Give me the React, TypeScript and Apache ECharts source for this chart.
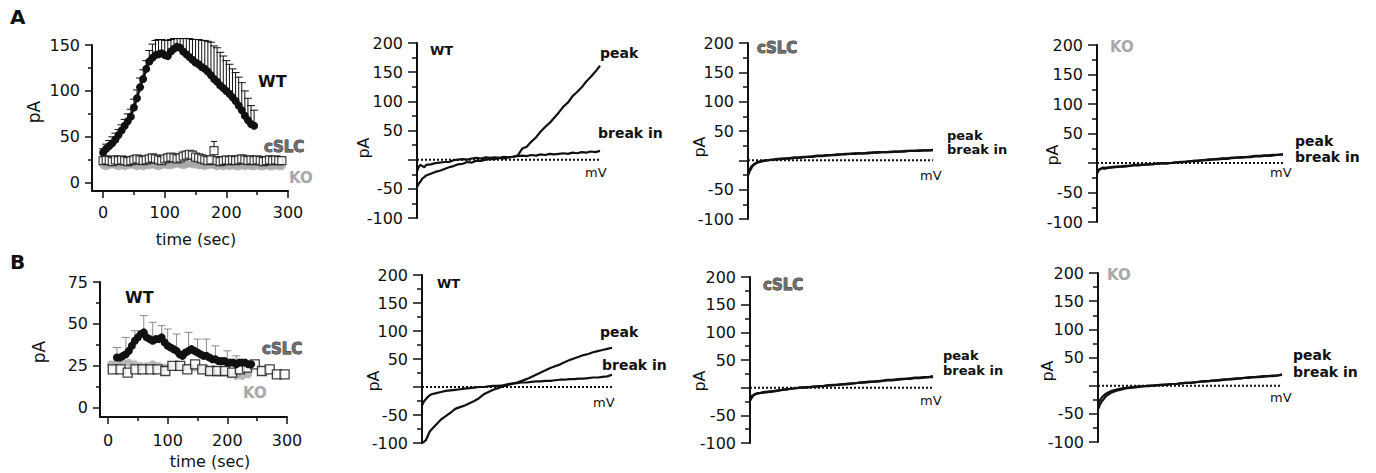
import React, { useEffect, useRef } from 'react';
import * as echarts from 'echarts';

const FF = '"DejaVu Sans"';
const INK = '#111';
const GRAY = '#a8a8a8';

// ---------- Time courses (A1, B1) ----------
const tA_WT = [0,5,10,15,20,25,30,35,40,45,50,55,60,65,70,75,80,85,90,95,100,105,110,115,120,125,130,135,140,145,150,155,160,165,170,175,180,185,190,195,200,205,210,215,220,225,230,235,240,245];
const WT_A = [33,37,40,43,47,52,57,62,67,72,82,92,104,113,124,132,136,139,140,141,139,138,143,146,148,147,143,140,137,134,131,129,126,124,121,117,113,110,106,103,100,97,93,89,84,79,73,68,64,62];
const WT_A_err = [4,5,6,7,7,6,6,7,8,8,9,9,10,10,9,12,15,16,16,15,16,17,13,11,9,10,14,17,20,22,25,27,29,31,33,36,36,37,36,35,33,32,31,31,31,30,27,24,20,17];

const tA_CTRL = [0,5,10,15,20,25,30,35,40,45,50,55,60,65,70,75,80,85,90,95,100,105,110,115,120,125,130,135,140,145,150,155,160,165,170,175,180,185,190,195,200,205,210,215,220,225,230,235,240,245,250,255,260,265,270,275,280,285,290];
const CSLC_A = [24,25,24,23,25,24,25,24,23,24,25,26,25,24,25,26,27,26,25,24,26,27,28,27,26,27,29,30,31,30,28,27,26,25,24,25,35,24,23,24,25,24,25,24,25,26,25,24,25,24,25,24,23,24,25,24,25,24,24];
const CSLC_A_err = [3,4,3,3,4,3,3,4,3,3,4,3,3,4,3,3,4,3,3,4,3,4,3,3,4,3,4,3,3,4,3,3,4,3,3,3,10,3,3,4,3,3,4,3,3,4,3,3,4,3,3,4,3,3,4,3,3,3,3];
const KO_A = [19,18,19,20,19,18,19,18,19,20,19,18,19,18,19,19,20,19,18,19,20,19,19,20,21,20,19,20,21,20,20,19,19,18,19,20,19,18,19,18,19,18,19,18,18,19,18,19,18,18,19,18,18,19,18,18,19,18,18];

const tB_WT = [15,20,25,30,35,40,45,50,55,60,65,70,75,80,85,90,95,100,105,110,115,120,125,130,135,140,145,150,155,160,165,170,175,180,185,190,195,200,205,210,215,220,225,230,235,240];
const WT_B = [30,30,31,32,34,37,40,42,44,45,42,41,40,41,41,42,39,37,36,35,34,32,31,33,34,35,34,33,32,31,31,30,29,29,28,28,28,27,27,27,26,27,27,27,26,26];
const tB_WT_err = [15,30,45,60,75,90,100,115,135,150,165,180,200,215];
const WT_B_err = [6,10,6,10,11,7,10,10,11,8,10,8,7,5];

const tB_CSLC = [8,21,33,46,58,71,83,96,108,121,133,146,158,171,183,196,208,221,233,246,258,271,283,296];
const CSLC_B = [23,23,21,23,23,23,23,22,25,25,23,26,23,22,22,22,21,23,24,26,22,23,20,20];
const tB_KO = [5,15,25,35,45,55,65,75,85,95,105,115,125,135,145,155,165,175,185,195,205,215,225,235];
const KO_B = [26,27,27,27,26,25,25,26,25,24,25,26,25,24,24,23,22,22,21,21,20,19,19,20];

const TA_X_MAJOR = [0,100,200,300];
const TA_X_MINOR = [50,150,250];
const TA_Y_MAJOR = [0,50,100,150];
const TA_Y_MINOR = [25,75,125];
const TB_Y_MAJOR = [0,25,50,75];
const TB_Y_MINOR = [12.5,37.5,62.5];

// ---------- I-V curves (voltage in mV, current in pA) ----------
const V = [-100,-98,-96,-94,-92,-90,-85,-80,-75,-70,-65,-60,-55,-50,-45,-40,-35,-30,-25,-20,-15,-10,-5,0,5,10,15,20,25,30,35,40,45,50,55,60,65,70,75,80,85,90,95,100];
const ZERO_V = [-100,100];

const A_WT_peak = [-47,-41,-37,-32,-30,-27,-24,-21,-19,-16,-13,-11,-8,-7,-4,-5,-2,-2,0,1,1,3,2,4,5,7,19,22,31,38,48,56,63,72,81,91,98,109,116,124,134,142,151,161];
const A_WT_break = [-20,-12,-9,-11,-13,-9,-8,-6,-5,-4,-4,-1,0,1,0,2,3,2,4,3,4,3,5,4,5,6,7,6,8,7,9,8,10,9,10,11,10,12,11,13,12,14,13,15];
const A_CSLC_peak = [-26,-18,-12,-8,-6,-4,-2,0,1,2,3,3,4,5,5,6,6,7,8,8,9,9,10,10,11,11,12,12,12,13,13,14,14,14,15,15,15,16,16,16,17,17,17,18];
const A_CSLC_break = [-23,-15,-10,-7,-5,-3,-1,0,1,1,2,3,3,4,4,5,6,6,7,7,8,9,9,10,10,11,11,12,12,12,13,13,14,14,14,15,15,15,16,16,16,17,17,17];
const A_KO_peak = [-18,-12,-10,-9,-10,-8,-8,-7,-6,-6,-5,-4,-4,-3,-3,-2,-1,-1,-1,0,1,2,2,3,4,4,5,6,6,7,8,8,9,9,10,10,11,12,12,13,13,14,14,15];
const A_KO_break = [-14,-11,-10,-8,-8,-9,-7,-6,-6,-5,-5,-3,-3,-3,-2,-2,-1,0,0,0,1,1,2,3,3,4,5,5,6,6,7,7,8,9,9,10,10,11,11,12,12,13,14,14];

const B_WT_peak = [-100,-98,-95,-88,-80,-76,-67,-58,-52,-46,-39,-36,-33,-29,-25,-20,-13,-9,-5,-2,1,3,6,8,11,14,18,22,26,30,34,37,40,44,48,51,54,57,59,62,64,66,68,70];
const B_WT_break = [-33,-26,-22,-18,-15,-13,-11,-9,-7,-6,-5,-4,-3,-2,-1,0,0,1,2,2,3,5,6,7,8,8,9,10,10,11,11,12,13,13,14,14,15,15,16,17,17,18,19,22];
const B_CSLC_peak = [-24,-18,-14,-12,-11,-10,-9,-8,-7,-6,-4,-3,-2,-1,0,1,1,2,3,3,4,5,5,6,7,8,8,9,10,11,11,12,13,14,14,15,16,16,17,18,18,19,19,21];
const B_CSLC_break = [-20,-15,-13,-11,-10,-10,-8,-7,-6,-5,-4,-3,-2,-1,0,0,1,2,2,3,4,4,5,6,6,7,8,9,9,10,11,11,12,13,13,14,15,16,16,17,17,18,19,19];
const B_KO_peak = [-42,-34,-28,-24,-20,-17,-12,-9,-7,-5,-4,-3,-2,-1,-1,0,1,1,2,3,3,4,5,5,6,7,8,8,9,10,11,11,12,13,13,14,15,15,16,17,17,18,18,20];
const B_KO_break = [-32,-26,-21,-18,-15,-13,-9,-7,-5,-4,-3,-2,-1,-1,0,0,1,2,2,3,3,4,5,5,6,7,7,8,9,9,10,11,11,12,13,14,14,15,15,16,17,17,18,19];

function buildOption() {
  const grids: any[] = [];
  const xAxes: any[] = [];
  const yAxes: any[] = [];
  const series: any[] = [];
  const graphic: any[] = [];

  const lineCol = { color: INK, width: 2 };
  const tickCol = { color: INK, width: 1.5 };

  const text = (s: string, x: number, y: number, size: number, opts: any = {}) => {
    graphic.push({
      type: 'text', x, y, rotation: opts.rotation || 0, silent: true,
      style: {
        text: s,
        font: `${opts.bold ? 'bold ' : ''}${size}px ${FF}`,
        fill: opts.fill || INK,
        stroke: opts.stroke, lineWidth: opts.lineWidth || 0,
        align: opts.align || 'left', verticalAlign: 'middle',
      },
    });
  };

  const errSeries = (xi: number, yi: number, data: number[][], color: string, width: number, cap: number) => ({
    type: 'custom', xAxisIndex: xi, yAxisIndex: yi, data, encode: { x: 0, y: 1 }, silent: true,
    renderItem: (_p: any, api: any) => {
      const x = api.value(0), y = api.value(1), e = api.value(2);
      const a = api.coord([x, y]);
      const b = api.coord([x, y + e]);
      return {
        type: 'group', children: [
          { type: 'line', shape: { x1: a[0], y1: a[1], x2: b[0], y2: b[1] }, style: { stroke: color, lineWidth: width } },
          { type: 'line', shape: { x1: b[0] - cap, y1: b[1], x2: b[0] + cap, y2: b[1] }, style: { stroke: color, lineWidth: width } },
        ],
      };
    },
  });

  const timePanel = (box: number[], xr: number[], yr: number[], yMajor: number[], yMinor: number[], xLabelMargin: number) => {
    const g = grids.length;
    grids.push({ left: box[0], top: box[1], width: box[2], height: box[3], containLabel: false, outerBoundsMode: 'none' });
    const xi = xAxes.length;
    xAxes.push({
      gridIndex: g, type: 'value', position: 'bottom', min: xr[0], max: xr[1],
      axisLine: { show: true, onZero: false, lineStyle: lineCol },
      axisTick: { show: true, customValues: TA_X_MAJOR, length: 7, lineStyle: tickCol },
      axisLabel: { show: true, customValues: TA_X_MAJOR, margin: xLabelMargin, fontSize: 16, fontFamily: FF, color: INK },
      splitLine: { show: false },
    });
    xAxes.push({
      gridIndex: g, type: 'value', position: 'bottom', min: xr[0], max: xr[1],
      axisLine: { show: false, onZero: false },
      axisTick: { show: true, customValues: TA_X_MINOR, length: 4, lineStyle: tickCol },
      axisLabel: { show: false }, splitLine: { show: false },
    });
    const yi = yAxes.length;
    yAxes.push({
      gridIndex: g, type: 'value', position: 'left', min: yr[0], max: yr[1],
      axisLine: { show: true, onZero: false, lineStyle: lineCol },
      axisTick: { show: true, customValues: yMajor, length: 7, lineStyle: tickCol },
      axisLabel: { show: true, customValues: yMajor, margin: 12, fontSize: 16, fontFamily: FF, color: INK },
      splitLine: { show: false },
    });
    yAxes.push({
      gridIndex: g, type: 'value', position: 'left', min: yr[0], max: yr[1],
      axisLine: { show: false, onZero: false },
      axisTick: { show: true, customValues: yMinor, length: 4, lineStyle: tickCol },
      axisLabel: { show: false }, splitLine: { show: false },
    });
    return { xi, yi };
  };

  const ivPanel = (box: number[], peak: number[], brk: number[]) => {
    const g = grids.length;
    grids.push({ left: box[0], top: box[1], width: box[2], height: box[3], containLabel: false, outerBoundsMode: 'none' });
    const xi = xAxes.length;
    xAxes.push({ gridIndex: g, type: 'value', min: -100, max: 100, show: false, splitLine: { show: false } });
    const yi = yAxes.length;
    yAxes.push({
      gridIndex: g, type: 'value', position: 'left', min: -100, max: 200, interval: 50,
      axisLine: { show: true, onZero: false, lineStyle: lineCol },
      axisTick: { show: true, length: 9, lineStyle: tickCol },
      minorTick: { show: true, splitNumber: 2, length: 5, lineStyle: tickCol },
      axisLabel: { show: true, margin: 14, fontSize: 16, fontFamily: FF, color: INK, formatter: (v: number) => (v === 0 ? '' : String(v)) },
      splitLine: { show: false }, minorSplitLine: { show: false },
    });
    series.push({
      type: 'line', xAxisIndex: xi, yAxisIndex: yi, symbol: 'none', silent: true,
      data: ZERO_V.map((v) => [v, 0]), lineStyle: { color: INK, width: 2, type: [2, 2] },
    });
    series.push({
      type: 'line', xAxisIndex: xi, yAxisIndex: yi, symbol: 'none', silent: true,
      data: V.map((v, i) => [v, brk[i]]), lineStyle: { color: INK, width: 2.2 },
    });
    series.push({
      type: 'line', xAxisIndex: xi, yAxisIndex: yi, symbol: 'none', silent: true,
      data: V.map((v, i) => [v, peak[i]]), lineStyle: { color: INK, width: 2.2 },
    });
  };

  // ----- A1 -----
  const a1 = timePanel([92, 45, 196, 146], [-18, 300], [-9, 150], TA_Y_MAJOR, TA_Y_MINOR, 13);
  series.push({
    type: 'scatter', xAxisIndex: a1.xi, yAxisIndex: a1.yi, symbol: 'circle', symbolSize: 8, silent: true,
    itemStyle: { color: GRAY }, data: tA_CTRL.map((t, i) => [t, KO_A[i]]),
  });
  series.push(errSeries(a1.xi, a1.yi, tA_CTRL.map((t, i) => [t, CSLC_A[i], CSLC_A_err[i]]), INK, 1, 3));
  series.push({
    type: 'scatter', xAxisIndex: a1.xi, yAxisIndex: a1.yi, symbol: 'rect', symbolSize: 8, silent: true,
    itemStyle: { color: '#fff', borderColor: INK, borderWidth: 1.2 }, data: tA_CTRL.map((t, i) => [t, CSLC_A[i]]),
  });
  series.push(errSeries(a1.xi, a1.yi, tA_WT.map((t, i) => [t, WT_A[i], WT_A_err[i]]), INK, 1, 4));
  series.push({
    type: 'line', xAxisIndex: a1.xi, yAxisIndex: a1.yi, symbol: 'circle', symbolSize: 8, showAllSymbol: true, silent: true,
    itemStyle: { color: INK }, lineStyle: { color: INK, width: 2.5 }, data: tA_WT.map((t, i) => [t, WT_A[i]]),
  });

  // ----- A2..A4 -----
  ivPanel([417, 43, 183, 175], A_WT_peak, A_WT_break);
  ivPanel([748, 43, 185, 176], A_CSLC_peak, A_CSLC_break);
  ivPanel([1097, 45, 186, 177], A_KO_peak, A_KO_break);

  // ----- B1 -----
  const b1 = timePanel([100, 282, 187, 135], [-13.4, 300], [-5.4, 75], TB_Y_MAJOR, TB_Y_MINOR, 15);
  series.push({
    type: 'scatter', xAxisIndex: b1.xi, yAxisIndex: b1.yi, symbol: 'circle', symbolSize: 8, silent: true,
    itemStyle: { color: GRAY }, data: tB_KO.map((t, i) => [t, KO_B[i]]),
  });
  series.push(errSeries(b1.xi, b1.yi, tB_WT_err.map((t, i) => [t, WT_B[tB_WT.indexOf(t)], WT_B_err[i]]), '#8a8a8a', 1, 4));
  series.push({
    type: 'scatter', xAxisIndex: b1.xi, yAxisIndex: b1.yi, symbol: 'rect', symbolSize: 9, silent: true,
    itemStyle: { color: '#fff', borderColor: INK, borderWidth: 1.3 }, data: tB_CSLC.map((t, i) => [t, CSLC_B[i]]),
  });
  series.push({
    type: 'line', xAxisIndex: b1.xi, yAxisIndex: b1.yi, symbol: 'circle', symbolSize: 8, showAllSymbol: true, silent: true,
    itemStyle: { color: INK }, lineStyle: { color: INK, width: 3 }, data: tB_WT.map((t, i) => [t, WT_B[i]]),
  });

  // ----- B2..B4 -----
  ivPanel([422, 275, 190, 168], B_WT_peak, B_WT_break);
  ivPanel([750, 277, 183, 166], B_CSLC_peak, B_CSLC_break);
  ivPanel([1098, 273, 184, 169], B_KO_peak, B_KO_break);

  // ----- texts -----
  const cslcStyle = { bold: true, fill: '#6e6e6e', stroke: '#1a1a1a', lineWidth: 0.8 };
  const koStyle = { bold: true, fill: GRAY };
  const b = { bold: true };
  text('A', 10, 17, 20, b);
  text('B', 10, 262, 20, b);

  text('pA', 34, 112, 17, { rotation: Math.PI / 2, align: 'center' });
  text('time (sec)', 196, 239, 16, { align: 'center' });
  text('WT', 258, 81, 16, b);
  text('cSLC', 264, 147, 15, cslcStyle);
  text('KO', 289, 178, 15, koStyle);

  text('pA', 39, 352, 17, { rotation: Math.PI / 2, align: 'center' });
  text('time (sec)', 210, 461, 16, { align: 'center' });
  text('WT', 125, 297, 16, b);
  text('cSLC', 262, 349, 15, cslcStyle);
  text('KO', 243, 393, 15, koStyle);

  // A row IV labels
  text('pA', 363, 148, 16, { rotation: Math.PI / 2, align: 'center' });
  text('WT', 430, 50, 13, b);
  text('peak', 600, 53, 14, b);
  text('break in', 598, 133, 14, b);
  text('mV', 585, 172, 13);

  text('pA', 699, 147, 16, { rotation: Math.PI / 2, align: 'center' });
  text('cSLC', 757, 48, 15, cslcStyle);
  text('peak', 947, 135, 13, b);
  text('break in', 947, 149, 13, b);
  text('mV', 920, 175, 13);

  text('pA', 1052, 155, 16, { rotation: Math.PI / 2, align: 'center' });
  text('KO', 1110, 47, 15, koStyle);
  text('peak', 1295, 141, 14, b);
  text('break in', 1295, 157, 14, b);
  text('mV', 1270, 172, 13);

  // B row IV labels
  text('pA', 373, 381, 16, { rotation: Math.PI / 2, align: 'center' });
  text('WT', 437, 283, 13, b);
  text('peak', 600, 332, 14, b);
  text('break in', 602, 365, 14, b);
  text('mV', 593, 402, 13);

  text('pA', 699, 381, 16, { rotation: Math.PI / 2, align: 'center' });
  text('cSLC', 763, 285, 15, cslcStyle);
  text('peak', 943, 355, 13, b);
  text('break in', 943, 370, 13, b);
  text('mV', 920, 400, 13);

  text('pA', 1047, 371, 16, { rotation: Math.PI / 2, align: 'center' });
  text('KO', 1107, 275, 15, koStyle);
  text('peak', 1293, 355, 14, b);
  text('break in', 1293, 372, 14, b);
  text('mV', 1270, 397, 13);

  return {
    animation: false,
    backgroundColor: '#fff',
    textStyle: { fontFamily: FF },
    grid: grids,
    xAxis: xAxes,
    yAxis: yAxes,
    series,
    graphic,
  };
}

export default function App() {
  const ref = useRef<HTMLDivElement>(null);
  useEffect(() => {
    if (!ref.current) return;
    const chart = echarts.init(ref.current, undefined, { renderer: 'svg' });
    chart.setOption(buildOption() as any);
    return () => chart.dispose();
  }, []);
  return <div ref={ref} style={{ position: 'absolute', left: 0, top: 0, width: 1376, height: 473 }} />;
}
